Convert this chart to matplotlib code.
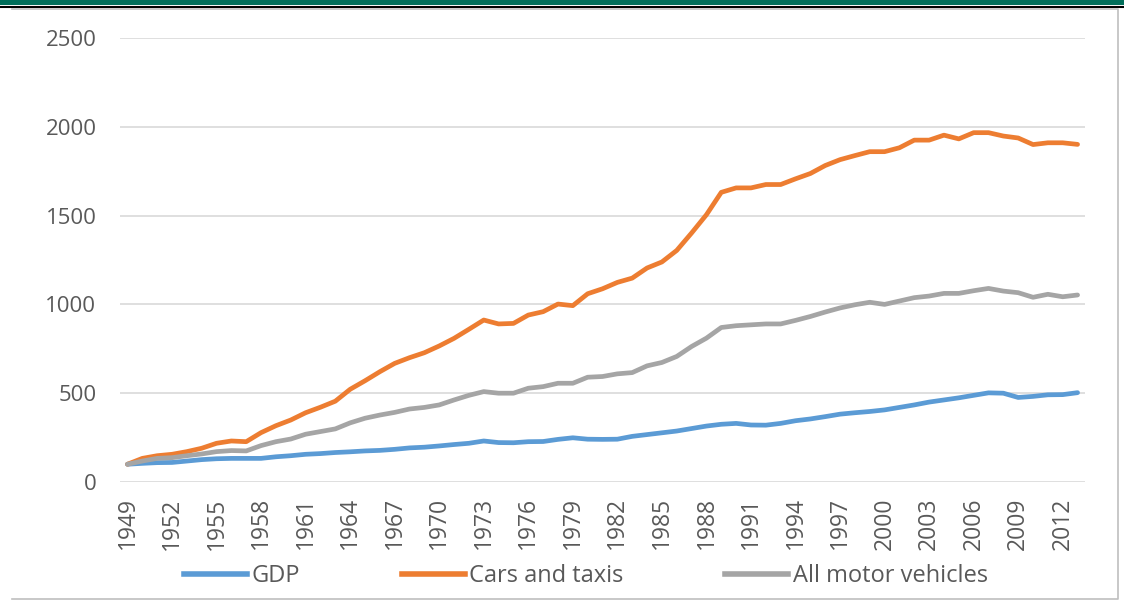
# Traffic growth vs GDP, index 1949 = 100

import numpy as np
import matplotlib.pyplot as plt
from matplotlib.lines import Line2D

plt.rcParams['font.family'] = ['Open Sans', 'DejaVu Sans']

# Data

years = np.arange(1949, 2014)

gdp = [100, 105, 109, 110, 118, 126, 131, 133, 133, 133,
       142, 148, 156, 160, 166, 170, 175, 178, 184, 192,
       196, 203, 211, 218, 231, 222, 221, 227, 228, 240,
       249, 241, 240, 241, 257, 267, 277, 287, 301, 315,
       325, 330, 321, 320, 330, 345, 355, 368, 382, 390,
       397, 406, 420, 434, 450, 462, 474, 488, 502, 500,
       476, 482, 491, 492, 503]

cars = [100, 133, 148, 156, 171, 190, 218, 231, 227, 278,
        317, 349, 390, 421, 455, 522, 570, 621, 668, 700,
        728, 766, 809, 860, 912, 890, 893, 940, 959, 1002,
        993, 1060, 1088, 1124, 1148, 1205, 1239, 1304, 1402, 1505,
        1631, 1656, 1656, 1675, 1675, 1707, 1737, 1782, 1815, 1838,
        1860, 1860, 1882, 1925, 1925, 1953, 1932, 1967, 1967, 1948,
        1937, 1900, 1910, 1910, 1901]

allmv = [100, 118, 133, 137, 148, 158, 171, 177, 175, 205,
         227, 242, 269, 284, 299, 333, 359, 377, 392, 411,
         420, 434, 462, 488, 509, 500, 500, 528, 537, 556,
         556, 590, 594, 609, 616, 654, 673, 707, 763, 810,
         870, 880, 885, 890, 890, 910, 932, 957, 980, 998,
         1012, 1000, 1019, 1038, 1047, 1062, 1062, 1077, 1090, 1075,
         1066, 1040, 1057, 1043, 1053]

labels = ['GDP', 'Cars and taxis', 'All motor vehicles']
colors = ['#5B9BD5', '#ED7D31', '#A5A5A5']
yticks = [0, 500, 1000, 1500, 2000, 2500]
xticks = years[::3]

txtcol = '#595959'

# Figure

fig = plt.figure(figsize=(11.24, 6.13), dpi=100)
ax = fig.add_axes([0.1068, 0.2137, 0.8585, 0.7243])

for s, c, l in zip([gdp, cars, allmv], colors, labels):
    ax.plot(years, s, color=c, lw=3.4, label=l, solid_capstyle='round', solid_joinstyle='round')

ax.set_xlim(1948.5, 2013.5)
ax.set_ylim(0, 2500)
ax.set_yticks(yticks)
ax.set_yticklabels([str(v) for v in yticks])
ax.set_xticks(xticks)
ax.set_xticklabels([str(v) for v in xticks], rotation=90)
ax.grid(axis='y', color='#D9D9D9', lw=1.2)
ax.set_axisbelow(True)
for sp in ax.spines.values():
    sp.set_visible(False)
ax.tick_params(axis='y', length=0, labelsize=16, colors=txtcol, pad=17)
ax.tick_params(axis='x', length=0, labelsize=16.5, colors=txtcol, pad=11)

# Legend below the chart
handles = [Line2D([], [], color=c, lw=4) for c in colors]
leg = fig.legend(handles, labels, loc='center', bbox_to_anchor=(586 / 1124, 1 - 576 / 613),
                 ncol=3, frameon=False, fontsize=17, handlelength=2.67,
                 handletextpad=0.2, columnspacing=4.3, labelcolor=txtcol)

# Green band and frame around the chart
fig.add_artist(plt.Rectangle((0, 1 - 5 / 613), 1, 5 / 613, transform=fig.transFigure,
                             color='#006E5A', lw=0))
fig.add_artist(Line2D([0, 1], [1 - 6.5 / 613] * 2, transform=fig.transFigure, color='black', lw=1.5))
fig.add_artist(Line2D([12 / 1124, 1118 / 1124, 1118 / 1124, 12 / 1124],
                      [1 - 9 / 613, 1 - 9 / 613, 1 - 599 / 613, 1 - 599 / 613],
                      transform=fig.transFigure, color='#BFBFBF', lw=1.2))

fig.savefig('out.png', dpi=100)
